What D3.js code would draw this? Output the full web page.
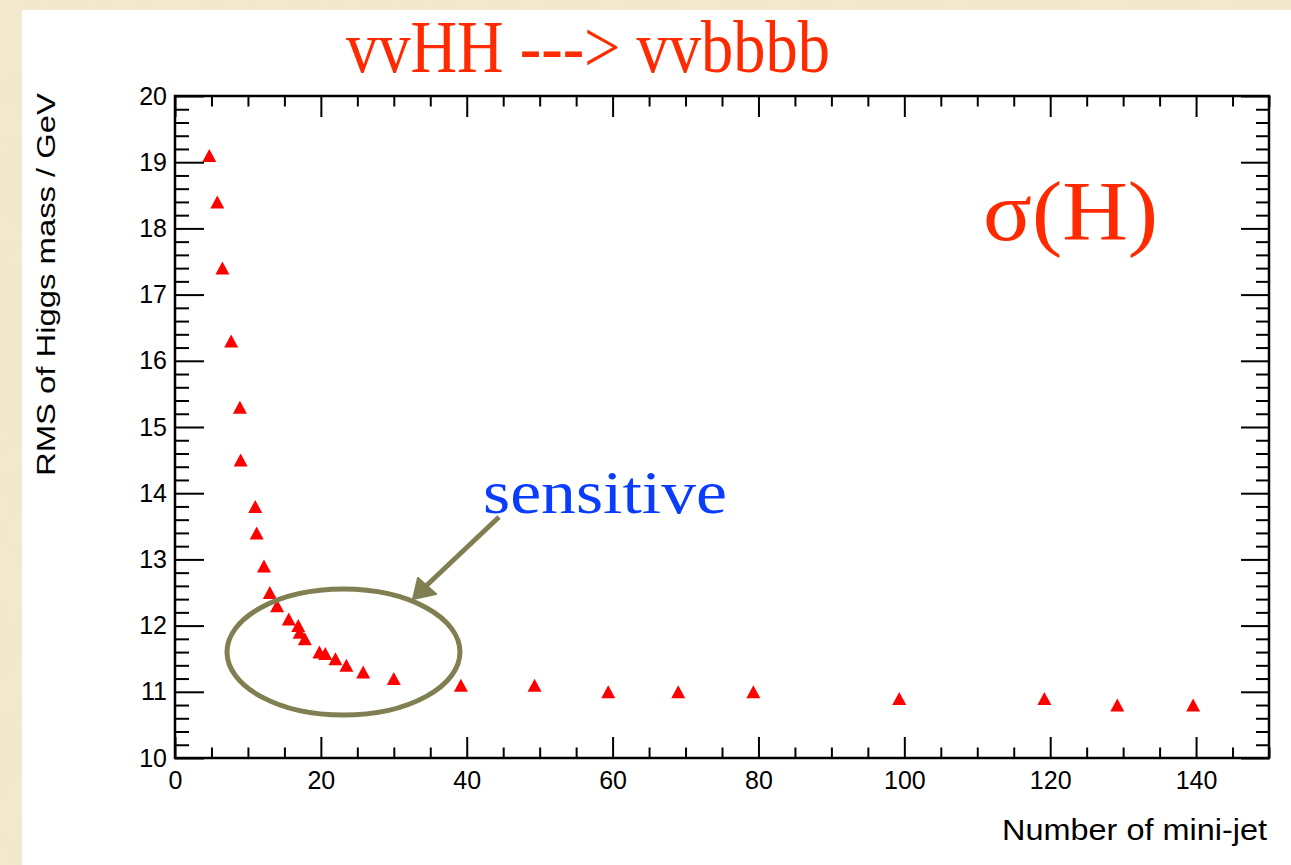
<!DOCTYPE html>
<html>
<head>
<meta charset="utf-8">
<script src="https://cdn.jsdelivr.net/npm/d3@7"></script>
<style>
  html, body { margin: 0; padding: 0; background: #f1e7cb; }
  svg { display: block; }
</style>
</head>
<body>
<div class="chart"></div>
<script>
// values
var nJets = [4.7, 5.8, 6.5, 7.7, 8.9, 9.0, 11.0, 11.2, 12.2, 13.0, 14.0, 15.6, 16.9, 17.1, 17.8,
             19.8, 20.6, 22.0, 23.5, 25.8, 30.0, 39.2, 49.3, 59.4, 69.0, 79.3, 99.3, 119.2, 129.2, 139.6];
var rmsMass = [19.1, 18.4, 17.4, 16.3, 15.3, 14.5, 13.8, 13.4, 12.9, 12.5, 12.3, 12.1, 12.0, 11.9, 11.8,
               11.6, 11.58, 11.5, 11.4, 11.3, 11.2, 11.1, 11.1, 11.0, 11.0, 11.0, 10.9, 10.9, 10.8, 10.8];
var xMajor = [0, 20, 40, 60, 80, 100, 120, 140];
var yMajor = [10, 11, 12, 13, 14, 15, 16, 17, 18, 19, 20];

var W = 1291, H = 865;
var margin = {top: 96, right: 22, bottom: 107, left: 175},
    width = W - margin.left - margin.right,
    height = H - margin.top - margin.bottom;

var svg = d3.select(".chart").append("svg")
    .attr("width", W)
    .attr("height", H);

// parchment background with a little grain
var defs = svg.append("defs");
var f = defs.append("filter").attr("id", "grain").attr("x", 0).attr("y", 0).attr("width", "100%").attr("height", "100%");
f.append("feTurbulence").attr("type", "fractalNoise").attr("baseFrequency", "0.035 0.02").attr("numOctaves", 3).attr("seed", 4).attr("result", "n");
f.append("feColorMatrix").attr("in", "n").attr("type", "matrix")
    .attr("values", "0 0 0 0 0.86  0 0 0 0 0.78  0 0 0 0 0.58  0 0 0 0.55 -0.12");
svg.append("rect").attr("width", W).attr("height", H).attr("fill", "#f2e9cf");
svg.append("rect").attr("width", W).attr("height", H).attr("filter", "url(#grain)");

// white slide panel
svg.append("rect").attr("x", 22).attr("y", 10).attr("width", W - 22).attr("height", H - 10).attr("fill", "#fff");

var g = svg.append("g")
    .attr("transform", "translate(" + margin.left + "," + margin.top + ")");

var x = d3.scaleLinear().domain([0, 150]).range([0, width]);
var y = d3.scaleLinear().domain([10, 20]).range([height, 0]);

var xMinor = d3.range(0, 151, 5).filter(function(d) { return d % 20 !== 0; });
var yMinor = d3.range(100, 201, 2).map(function(d) { return d / 10; }).filter(function(d) { return d % 1 !== 0; });

function styleAxis(sel) {
    sel.select(".domain").remove();
    sel.selectAll("line").attr("stroke", "#000").attr("stroke-width", 2);
    sel.selectAll("text").attr("fill", "#000")
        .style("font-family", "'Liberation Sans', Arial, sans-serif")
        .style("font-size", "25px");
}

// bottom
g.append("g").attr("transform", "translate(0," + height + ")")
    .call(d3.axisBottom(x).tickValues(xMajor).tickSizeInner(-21).tickSizeOuter(0).tickPadding(13).tickFormat(d3.format("d")))
    .call(styleAxis);
g.append("g").attr("transform", "translate(0," + height + ")")
    .call(d3.axisBottom(x).tickValues(xMinor).tickSizeInner(-10.5).tickSizeOuter(0).tickFormat(""))
    .call(styleAxis);
// top
g.append("g")
    .call(d3.axisTop(x).tickValues(xMajor).tickSizeInner(-21).tickSizeOuter(0).tickFormat(""))
    .call(styleAxis);
g.append("g")
    .call(d3.axisTop(x).tickValues(xMinor).tickSizeInner(-10.5).tickSizeOuter(0).tickFormat(""))
    .call(styleAxis);
// left
g.append("g")
    .call(d3.axisLeft(y).tickValues(yMajor).tickSizeInner(-29).tickSizeOuter(0).tickPadding(8).tickFormat(d3.format("d")))
    .call(styleAxis);
g.append("g")
    .call(d3.axisLeft(y).tickValues(yMinor).tickSizeInner(-14).tickSizeOuter(0).tickFormat(""))
    .call(styleAxis);
// right
g.append("g").attr("transform", "translate(" + width + ",0)")
    .call(d3.axisRight(y).tickValues(yMajor).tickSizeInner(-28).tickSizeOuter(0).tickFormat(""))
    .call(styleAxis);
g.append("g").attr("transform", "translate(" + width + ",0)")
    .call(d3.axisRight(y).tickValues(yMinor).tickSizeInner(-13).tickSizeOuter(0).tickFormat(""))
    .call(styleAxis);

// frame
g.append("rect").attr("width", width).attr("height", height)
    .attr("fill", "none").attr("stroke", "#000").attr("stroke-width", 2.5);

// axis titles
svg.append("text")
    .attr("x", 1267).attr("y", 840)
    .attr("text-anchor", "end")
    .attr("textLength", 265).attr("lengthAdjust", "spacingAndGlyphs")
    .style("font-family", "'Liberation Sans', Arial, sans-serif")
    .style("font-size", "30px")
    .text("Number of mini-jet");

svg.append("text")
    .attr("transform", "translate(55,476) rotate(-90)")
    .attr("text-anchor", "start")
    .attr("textLength", 383).attr("lengthAdjust", "spacingAndGlyphs")
    .style("font-family", "'Liberation Sans', Arial, sans-serif")
    .style("font-size", "26px")
    .text("RMS of Higgs mass / GeV");

// markers
var pts = nJets.map(function(d, i) { return [d, rmsMass[i]]; });
g.append("g").selectAll("path")
    .data(pts)
    .enter().append("path")
    .attr("d", function(d) {
        var cx = x(d[0]), cy = y(d[1]);
        return "M" + (cx - 7) + "," + (cy + 6.5) + "L" + (cx + 7) + "," + (cy + 6.5) + "L" + cx + "," + (cy - 6.5) + "Z";
    })
    .attr("fill", "#ff0000");

// annotations
var olive = "#7f7f52";
g.append("ellipse")
    .attr("cx", x(23.1)).attr("cy", y(11.6))
    .attr("rx", 116.5).attr("ry", 63)
    .attr("fill", "none").attr("stroke", olive).attr("stroke-width", 5);

svg.append("line")
    .attr("x1", 499).attr("y1", 517).attr("x2", 426).attr("y2", 586)
    .attr("stroke", olive).attr("stroke-width", 5);
svg.append("path")
    .attr("d", "M413,599L418,578L436,594Z")
    .attr("fill", olive).attr("stroke", olive).attr("stroke-width", 2).attr("stroke-linejoin", "round");

var serif = "'Palatino Linotype', Palatino, 'Liberation Serif', 'DejaVu Serif', serif";
svg.append("text")
    .attr("x", 346).attr("y", 72)
    .attr("textLength", 484).attr("lengthAdjust", "spacingAndGlyphs")
    .attr("fill", "#ff2a00")
    .style("font-family", serif).style("font-size", "74px")
    .text("vvHH ---> vvbbbb");

svg.append("text")
    .attr("x", 983).attr("y", 240)
    .attr("textLength", 175).attr("lengthAdjust", "spacingAndGlyphs")
    .attr("fill", "#ff2a00")
    .style("font-family", serif).style("font-size", "84px")
    .text("σ(H)");

svg.append("text")
    .attr("x", 483).attr("y", 513)
    .attr("textLength", 244).attr("lengthAdjust", "spacingAndGlyphs")
    .attr("fill", "#0a3cff")
    .style("font-family", serif).style("font-size", "62px")
    .text("sensitive");
</script>
</body>
</html>
